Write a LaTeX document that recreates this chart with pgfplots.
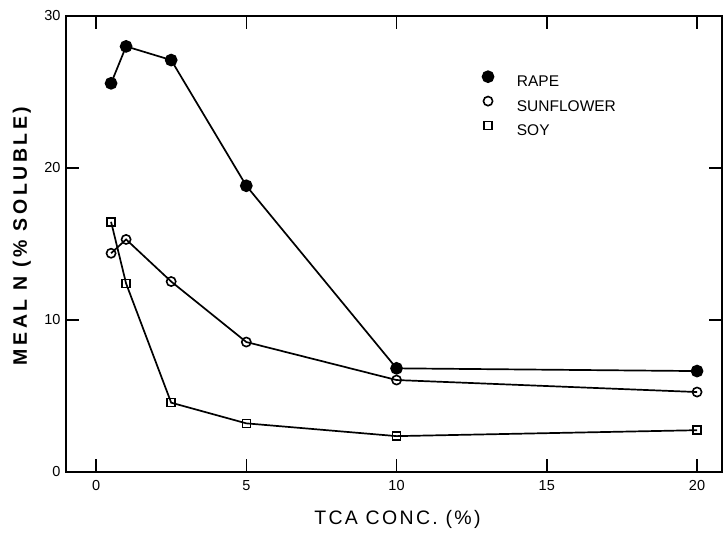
\documentclass[border=0pt]{standalone}
\usepackage{fontspec}
\setmainfont{Liberation Sans}
\newfontfamily\xlabfont[LetterSpace=12]{Liberation Sans}
\newfontfamily\ylabfont[LetterSpace=18]{Liberation Sans}
\usepackage{pgfplots}
\pgfplotsset{compat=1.18}
\begin{document}
\begin{tikzpicture}
\begin{axis}[
  scale only axis, width=656pt, height=456pt,
  xmin=-1, xmax=20.83, ymin=0, ymax=30,
  xtick={0,5,10,15,20}, ytick={0,10,20,30},
  tick align=inside, major tick length=13pt,
  tick style={line width=1.5pt, black},
  axis line style={line width=1.5pt},
  /pgf/number format/assume math mode=true,
  ticklabel style={font=\fontsize{14.5}{15}\selectfont},
  xticklabel style={yshift=-5pt},
  yticklabel style={xshift=-2pt},
  xlabel={\xlabfont TCA CONC. (\%)},
  xlabel style={at={(axis description cs:0.5053,-0.1162)}, anchor=base, font=\fontsize{19.5}{20}\selectfont},
  ylabel={\ylabfont\bfseries MEAL N (\% SOLUBLE)},
  ylabel style={at={(axis description cs:-0.0595,0.5175)}, anchor=base, rotate=0, font=\fontsize{19.5}{20}\selectfont},
  legend style={at={(rel axis cs:0.6326,0.8794)}, anchor=north west, draw=none, fill=none,
     inner sep=0pt, row sep=7.5pt, font=\fontsize{15.5}{16}\selectfont,
     nodes={inner sep=0pt}},
  legend cell align=left,
  legend image code/.code={\path (-6pt,0pt) (28pt,10pt); \draw[#1] plot coordinates {(0pt,5.5pt)};},
  clip=false,
]
\addplot[black, line width=1.7pt, mark=*, mark size=5.5pt, mark options={solid, fill=black}]
  coordinates {(0.5,25.57)(1,28.0)(2.5,27.1)(5,18.83)(10,6.82)(20,6.64)};
\addlegendentry{RAPE}
\addplot[black, line width=1.7pt, mark=o, mark size=4.6pt, mark options={solid, fill=white, line width=1.6pt}]
  coordinates {(0.5,14.39)(1,15.3)(2.5,12.53)(5,8.55)(10,6.05)(20,5.26)};
\addlegendentry{SUNFLOWER}
\addplot[black, line width=1.7pt, mark=square, mark size=4pt, mark options={solid, fill=white, line width=1.6pt}]
  coordinates {(0.5,16.46)(1,12.4)(2.5,4.56)(5,3.2)(10,2.36)(20,2.75)};
\addlegendentry{SOY}
\end{axis}
\path (current axis.south west) ++(-66pt,-57pt);
\path (current axis.north east) ++(1pt,16pt);
\end{tikzpicture}
\end{document}
